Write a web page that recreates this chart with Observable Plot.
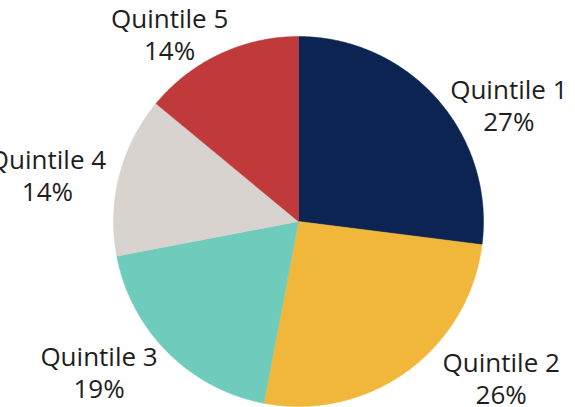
<!DOCTYPE html>
<html><head><meta charset="utf-8">
<script src="https://cdn.jsdelivr.net/npm/d3@7"></script>
<script src="https://cdn.jsdelivr.net/npm/@observablehq/plot@0.6"></script>
<style>html,body{margin:0;padding:0;background:#fff;overflow:hidden}</style>
</head><body><div id="chart"></div>
<script>
// ---- data ----
const categories = ["Quintile 1", "Quintile 2", "Quintile 3", "Quintile 4", "Quintile 5"];
const shares = [27, 26, 19, 14, 14];
const percentLabels = ["27%", "26%", "19%", "14%", "14%"];
const colors = ["#0c2451", "#f0b73b", "#6fcbbb", "#d8d3ce", "#c13a3b"];

// ---- layout ----
const W = 575, H = 407, CX = 298, CY = 221, R = 185;
const labelAngle = [61, 127.6, 233, 280.5, 325.5];   // degrees clockwise from 12 o'clock
const labelRadius = [1.30, 1.383, 1.35, 1.38, 1.23];

const arcs = d3.pie().sort(null).value(d => d)(shares);
const slicePts = [];
arcs.forEach((a, i) => {
  const cat = categories[i];
  slicePts.push({cat, x: 0, y: 0});
  const n = Math.max(2, Math.ceil((a.endAngle - a.startAngle) / (Math.PI / 360)));
  for (let k = 0; k <= n; k++) {
    const t = a.startAngle + (a.endAngle - a.startAngle) * k / n;
    slicePts.push({cat, x: Math.sin(t), y: Math.cos(t)});
  }
  slicePts.push({cat, x: 0, y: 0});
});

const labels = categories.map((c, i) => {
  const t = labelAngle[i] * Math.PI / 180;
  return {text: c + "\n" + percentLabels[i], x: labelRadius[i] * Math.sin(t), y: labelRadius[i] * Math.cos(t)};
});

const chart = Plot.plot({
  width: W, height: H,
  margin: 0,
  x: {domain: [-CX / R, (W - CX) / R], axis: null},
  y: {domain: [-(H - CY) / R, CY / R], axis: null},
  color: {domain: categories, range: colors},
  style: {background: "#fff"},
  marks: [
    Plot.line(slicePts, {x: "x", y: "y", z: "cat", fill: "cat", stroke: "cat", strokeWidth: 0.5}),
    Plot.text(labels, {x: "x", y: "y", text: "text", fontSize: 26, lineHeight: 1.22,
      fontFamily: "'Open Sans', sans-serif", fill: "#1e1e1e", textAnchor: "middle"})
  ]
});
document.getElementById("chart").appendChild(chart);
</script>
</body></html>
